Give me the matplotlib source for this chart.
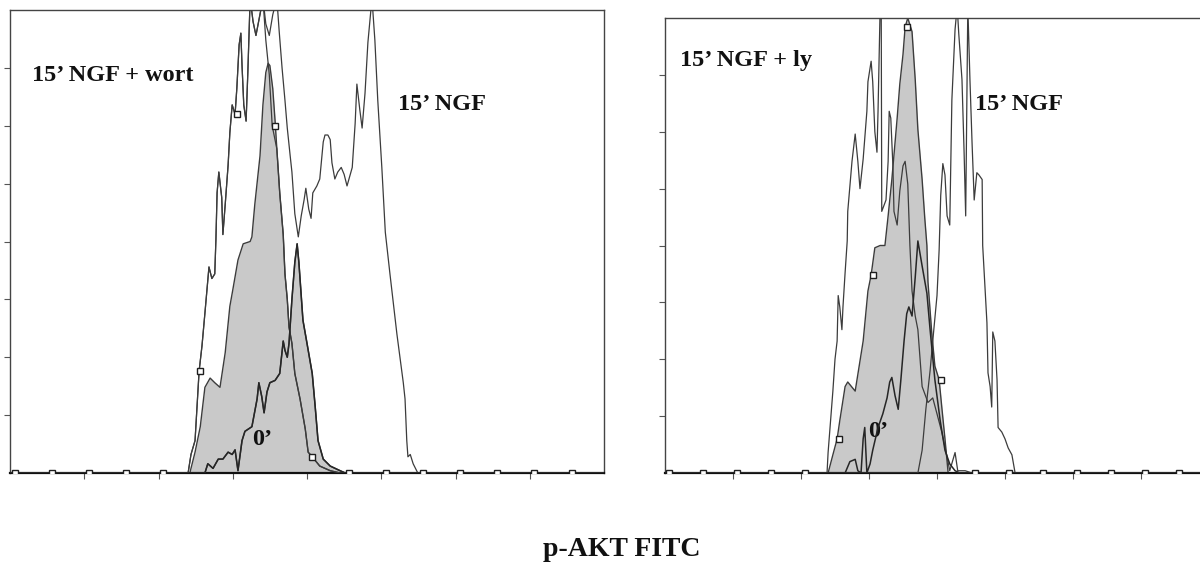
import matplotlib.pyplot as plt
import numpy as np

# FL1 channel (0-1023) and event counts

# left panel: 15' NGF + wortmannin
wort_ch = [0, 298, 307, 312, 319, 326, 331, 336, 343, 348, 353, 355, 357, 360, 365, 367, 371, 376, 379, 383,
           388, 391, 395, 398, 400, 403, 407, 410, 414, 419, 424, 436, 441, 447, 452, 460, 465, 471, 474, 478,
           481, 486, 491, 500, 509, 514, 521, 534, 552, 569, 1023]
wort_cnt = [0, 0, 0, 8, 14, 44, 55, 69, 89, 84, 86, 101, 121, 130, 119, 103, 116, 133, 147, 159,
            155, 166, 185, 190, 176, 159, 152, 173, 205, 195, 189, 205, 187, 172, 150, 140, 121, 103, 86, 75,
            63, 56, 43, 32, 19, 9, 7, 3, 1, 0, 0]

# left panel: 15' NGF
ngf_l_ch = [0, 298, 307, 312, 319, 326, 331, 336, 343, 348, 353, 355, 357, 360, 365, 367, 371, 376, 379, 383,
            388, 391, 395, 398, 400, 403, 407, 410, 414, 419, 424, 431, 436, 441, 447, 453, 460, 464, 469, 474,
            478, 483, 486, 491, 497, 502, 507, 510, 515, 519, 522, 529, 534, 540, 543, 548, 552, 555, 560, 565,
            571, 576, 581, 590, 595, 598, 603, 607, 612, 617, 624, 629, 634, 641, 647, 655, 667, 678, 681, 684,
            686, 690, 695, 703, 1023]
ngf_l_cnt = [0, 0, 0, 8, 14, 44, 55, 69, 89, 84, 86, 101, 121, 130, 119, 103, 116, 133, 147, 159,
             155, 166, 185, 190, 176, 159, 152, 173, 205, 195, 189, 198, 205, 194, 189, 198, 205, 191, 175, 161,
             149, 137, 130, 112, 102, 111, 118, 123, 114, 110, 121, 124, 127, 143, 146, 146, 144, 134, 127, 130,
             132, 129, 124, 132, 151, 168, 157, 149, 164, 186, 205, 187, 161, 132, 104, 86, 60, 39, 32, 14,
             7, 8, 4, 0, 0]

# left panel: filled histogram
fill_l_ch = [0, 302, 310, 319, 328, 336, 345, 353, 362, 371, 379, 384, 393, 402, 414, 417, 422, 431, 436, 441,
             445, 448, 453, 457, 460, 465, 471, 474, 478, 481, 486, 491, 500, 509, 514, 521, 534, 552, 569, 1023]
fill_l_cnt = [0, 0, 0, 9, 20, 37, 41, 39, 37, 52, 72, 79, 92, 99, 100, 102, 116, 137, 159, 173,
              177, 176, 166, 152, 140, 121, 103, 86, 75, 63, 56, 43, 32, 19, 9, 7, 3, 1, 0, 0]

# left panel: 0'
zero_l_ch = [0, 328, 336, 341, 350, 359, 367, 376, 383, 388, 393, 400, 405, 417, 426, 429, 434, 438, 443, 448,
             457, 465, 471, 474, 478, 481, 486, 491, 495, 498, 505, 512, 521, 526, 531, 540, 552, 569, 578, 1023]
zero_l_cnt = [0, 0, 0, 4, 2, 6, 6, 9, 8, 10, 1, 14, 18, 20, 32, 39, 33, 26, 35, 39,
              40, 43, 57, 53, 50, 56, 75, 91, 99, 91, 66, 56, 43, 29, 14, 6, 3, 1, 0, 0]

# right panel: 15' NGF + ly
ly_ch = [0, 292, 305, 307, 316, 320, 324, 326, 329, 333, 335, 339, 343, 344, 352, 358, 363, 367, 373, 380,
         382, 388, 391, 395, 399, 401, 405, 407, 408, 416, 420, 422, 425, 429, 431, 437, 442, 448, 452, 457,
         461, 465, 471, 476, 484, 495, 504, 512, 521, 531, 536, 546, 551, 565, 578, 1023]
ly_cnt = [0, 0, 0, 9, 36, 50, 58, 78, 73, 63, 73, 88, 102, 115, 137, 149, 137, 125, 138, 159,
          172, 181, 172, 150, 141, 159, 205, 205, 115, 120, 137, 159, 156, 135, 115, 109, 124, 135, 137, 127,
          100, 80, 69, 63, 38, 31, 33, 26, 18, 7, 1, 9, 1, 1, 0, 0]

# right panel: filled histogram
fill_r_ch = [0, 307, 316, 324, 329, 339, 344, 358, 373, 382, 388, 395, 405, 414, 420, 427, 437, 442, 448, 452,
             457, 465, 471, 476, 484, 489, 493, 495, 502, 508, 516, 521, 527, 533, 1023]
fill_r_cnt = [0, 0, 8, 15, 23, 38, 40, 36, 58, 80, 87, 99, 100, 100, 113, 129, 156, 171, 184, 196,
              200, 194, 173, 151, 129, 112, 100, 84, 62, 47, 41, 29, 15, 0, 0]

# right panel: 0'
zero_r_ch = [0, 339, 348, 358, 363, 369, 373, 376, 380, 386, 391, 401, 410, 418, 423, 427, 433, 439, 444, 450,
             455, 459, 465, 471, 476, 484, 493, 499, 508, 518, 527, 536, 546, 555, 1023]
zero_r_cnt = [0, 0, 5, 6, 1, 0, 15, 20, 0, 4, 10, 20, 26, 33, 40, 42, 34, 28, 41, 58,
              70, 73, 69, 86, 102, 91, 79, 63, 41, 23, 10, 4, 1, 0, 0]

# right panel: 15' NGF
ngf_r_ch = [0, 476, 484, 491, 499, 506, 512, 516, 519, 523, 527, 531, 536, 540, 546, 550, 553, 559, 563, 566,
            570, 574, 578, 582, 587, 591, 597, 598, 606, 608, 612, 615, 617, 621, 625, 627, 634, 640, 646, 653,
            659, 1023]
ngf_r_cnt = [0, 0, 10, 28, 45, 63, 78, 98, 122, 136, 131, 113, 109, 164, 195, 205, 193, 173, 141, 113,
             205, 173, 145, 120, 132, 131, 129, 100, 66, 44, 38, 29, 62, 58, 41, 20, 18, 15, 11, 8,
             0, 0]

# square gate markers
mark_ch = [8, 72, 136, 200, 264, 328, 392, 456, 520, 584, 648, 712, 776, 840, 904, 968]
mark_l_cnt = [0, 0, 0, 0, 0, 44, 155, 150, 7, 0, 0, 0, 0, 0, 0, 0]
mark_r_cnt = [0, 0, 0, 0, 0, 15, 87, 196, 41, 0, 0, 0, 0, 0, 0, 0]

ticks_x = [128, 256, 384, 512, 640, 768, 896]
ticks_y = [25, 50, 75, 100, 125, 150, 175]

SERIF = ['Liberation Serif', 'DejaVu Serif']
LINE = '#3c3c3c'
GRAY = '#c9c9c9'

fig = plt.figure(figsize=(12, 5.8), dpi=100)
W, H = 1200, 580
ax1 = fig.add_axes([10 / W, (H - 473) / H, 594 / W, 463 / H])
ax2 = fig.add_axes([665 / W, (H - 473) / H, 544 / W, 455 / H])


def panel(ax, fills, lines, dark, mk_cnt):
    for ch, cnt in fills:
        ax.fill_between(ch, cnt, 0, color=GRAY, lw=0, zorder=1)
    for ch, cnt in fills:
        ax.plot(ch, cnt, color=LINE, lw=1.0, zorder=2)
    for ch, cnt in lines:
        ax.plot(ch, cnt, color=LINE, lw=0.9, zorder=3)
    ax.plot(dark[0], dark[1], color='#262626', lw=1.1, zorder=4)
    ax.plot(mark_ch, mk_cnt, ls='none', marker='s', ms=4.5, mfc='white',
            mec='#1e1e1e', mew=1.0, zorder=5)
    ax.set_xlim(0, 1024)
    ax.set_ylim(0, 200)
    ax.set_xticks(ticks_x)
    ax.set_yticks(ticks_y)
    ax.tick_params(direction='out', length=4, width=0.8, color='#555',
                   labelbottom=False, labelleft=False)
    for s in ax.spines.values():
        s.set_color('#444')
        s.set_linewidth(1.0)
    ax.spines['bottom'].set_color('#111')
    ax.spines['bottom'].set_linewidth(1.6)


panel(ax1, [(fill_l_ch, fill_l_cnt), (zero_l_ch, zero_l_cnt)],
      [(ngf_l_ch, ngf_l_cnt), (wort_ch, wort_cnt)],
      (zero_l_ch, zero_l_cnt), mark_l_cnt)
panel(ax2, [(fill_r_ch, fill_r_cnt)],
      [(ngf_r_ch, ngf_r_cnt), (ly_ch, ly_cnt)],
      (zero_r_ch, zero_r_cnt), mark_r_cnt)

lab = dict(family=SERIF, fontweight='bold', fontsize=17.5, color='#111')
ax1.text(0.037, 0.847, '15’ NGF + wort', transform=ax1.transAxes, **lab)
ax1.text(0.653, 0.784, '15’ NGF', transform=ax1.transAxes, **lab)
ax1.text(0.407, 0.060, '0’', transform=ax1.transAxes, **lab)
ax2.text(0.028, 0.894, '15’ NGF + ly', transform=ax2.transAxes, **lab)
ax2.text(0.570, 0.798, '15’ NGF', transform=ax2.transAxes, **lab)
ax2.text(0.373, 0.079, '0’', transform=ax2.transAxes, **lab)

fig.text(622 / W, (H - 556) / H, 'p-AKT FITC', ha='center', va='baseline',
         family=SERIF, fontweight='bold', fontsize=20, color='#111')

fig.savefig('out.png', dpi=100)
